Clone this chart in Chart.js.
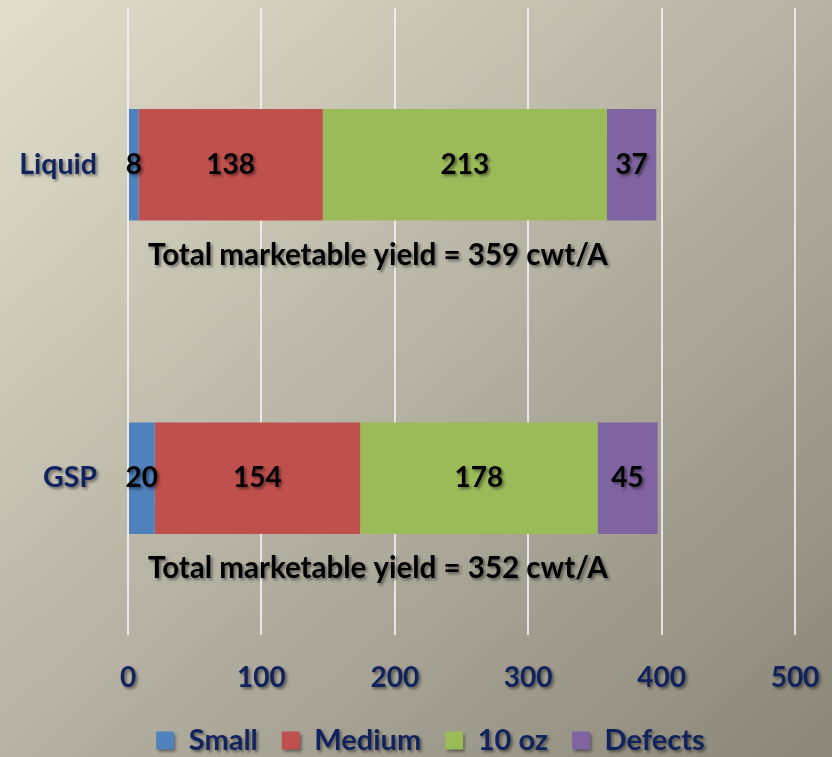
<!DOCTYPE html>
<html>
<head>
<meta charset="utf-8">
<script src="https://cdn.jsdelivr.net/npm/chart.js@4"></script>
<style>
    html, body { margin: 0; padding: 0; }
    body { background: linear-gradient(to bottom right, #E1DECD, #B5B2A3 50%, #8A8678); }
    #wrap { width: 832px; height: 757px; position: relative; }
</style>
</head>
<body>
<div id="wrap"><canvas id="grafica"></canvas></div>
<script>
// Datos
var categorias = ["Liquid", "GSP"];
var small = [8, 20];
var medium = [138, 154];
var diezOz = [213, 178];
var defectos = [37, 45];
var ticksX = [0, 100, 200, 300, 400, 500];

var azulMarino = "#10235F";
var fuente = "Lato";

// Sombra suave para los textos (como en la diapositiva)
function ponerSombra(ctx) {
    ctx.shadowColor = "rgba(0,0,0,0.45)";
    ctx.shadowOffsetX = 2;
    ctx.shadowOffsetY = 2;
    ctx.shadowBlur = 3;
}
function quitarSombra(ctx) {
    ctx.shadowColor = "rgba(0,0,0,0)";
    ctx.shadowBlur = 0;
    ctx.shadowOffsetX = 0;
    ctx.shadowOffsetY = 0;
}

var pluginTextos = {
    id: "textos",
    afterLayout: function (chart) {
        // centrar la leyenda como en el original
        chart.legend.left += 33;
        chart.legend.right += 33;
    },
    beforeDraw: function (chart) {
        // sin sombra en las líneas de la cuadrícula
        Object.values(chart.scales).forEach(function (s) {
            if (!s._sinSombra) {
                var original = s.drawGrid;
                s.drawGrid = function (area) {
                    var c = this.ctx;
                    c.save();
                    quitarSombra(c);
                    original.call(this, area);
                    c.restore();
                };
                s._sinSombra = true;
            }
        });
        ponerSombra(chart.ctx);
    },
    beforeDatasetsDraw: function (chart) {
        quitarSombra(chart.ctx);
    },
    afterDatasetsDraw: function (chart) {
        var ctx = chart.ctx;
        ctx.save();
        ponerSombra(ctx);
        ctx.fillStyle = "#000";
        ctx.font = "bold 28px " + fuente;
        ctx.textAlign = "center";
        ctx.textBaseline = "middle";
        chart.data.datasets.forEach(function (ds, i) {
            var meta = chart.getDatasetMeta(i);
            meta.data.forEach(function (barra, j) {
                var p = barra.getCenterPoint();
                ctx.fillText(ds.data[j], p.x, p.y);
            });
        });

        // Total comercial = small + medium + 10 oz
        var escalaX = chart.scales.x;
        var meta0 = chart.getDatasetMeta(0);
        ctx.textAlign = "left";
        ctx.font = "bold 29.5px " + fuente;
        categorias.forEach(function (cat, j) {
            var total = small[j] + medium[j] + diezOz[j];
            var barra = meta0.data[j];
            var y = barra.y + barra.height / 2 + 35;
            ctx.fillText("Total marketable yield = " + total + " cwt/A", escalaX.getPixelForValue(0) + 20, y);
        });
        ctx.restore();
    }
};

var ctx = document.getElementById("grafica").getContext("2d");
var grafica = new Chart(ctx, {
    type: "bar",
    data: {
        labels: categorias,
        datasets: [
            { label: "Small", data: small, backgroundColor: "#4F81BD" },
            { label: "Medium", data: medium, backgroundColor: "#C0504D" },
            { label: "10 oz", data: diezOz, backgroundColor: "#9BBB59" },
            { label: "Defects", data: defectos, backgroundColor: "#8064A2" }
        ]
    },
    options: {
        indexAxis: "y",
        responsive: true,
        maintainAspectRatio: false,
        animation: false,
        datasets: {
            bar: { categoryPercentage: 1, barPercentage: 0.355, borderWidth: 0 }
        },
        layout: { padding: { top: 8, right: 37, bottom: 0, left: 0 } },
        scales: {
            x: {
                stacked: true,
                min: ticksX[0],
                max: ticksX[ticksX.length - 1],
                afterBuildTicks: function (escala) {
                    escala.ticks = ticksX.map(function (v) { return { value: v }; });
                },
                grid: { color: "rgba(242,242,242,0.85)", lineWidth: 2, drawTicks: false },
                border: { display: false },
                ticks: {
                    color: azulMarino,
                    padding: 26,
                    font: { family: fuente, size: 28, weight: "bold" }
                },
                afterFit: function (escala) {
                    escala.height = 67;
                    escala.paddingLeft = 0;
                    escala.paddingRight = 0;
                }
            },
            y: {
                stacked: true,
                grid: { display: false, drawTicks: false },
                border: { display: false },
                ticks: {
                    color: azulMarino,
                    padding: 31,
                    font: { family: fuente, size: 28.5, weight: "bold" }
                },
                afterFit: function (escala) {
                    escala.width = 128;
                    escala.paddingTop = 0;
                    escala.paddingBottom = 0;
                }
            }
        },
        plugins: {
            legend: {
                position: "bottom",
                maxHeight: 55,
                labels: {
                    color: azulMarino,
                    boxWidth: 18,
                    boxHeight: 18,
                    padding: 24,
                    font: { family: fuente, size: 29, weight: "bold" }
                }
            },
            tooltip: { enabled: false }
        }
    },
    plugins: [pluginTextos]
});
</script>
</body>
</html>
